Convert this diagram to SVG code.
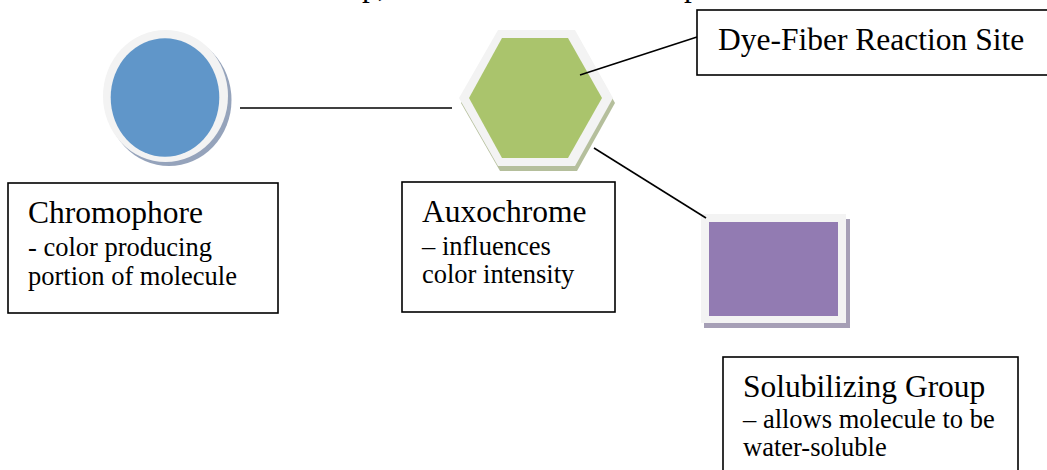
<svg xmlns="http://www.w3.org/2000/svg" width="1047" height="470" viewBox="0 0 1047 470">
<style>
.t{font-family:"Liberation Serif","Times New Roman",serif;fill:#000}
.big{font-size:31.5px}
.small{font-size:26.5px}
.box{fill:#fff;stroke:#000;stroke-width:1.6}
.conn{stroke:#000;stroke-width:1.6;fill:none}
.ring{fill:#f3f3f3}
</style>
<rect width="1047" height="470" fill="#fff"/>
<text class="t big" x="362" y="-4">p,</text>
<text class="t big" x="684" y="-4">p</text>
<g id="chromophore-shape">
<ellipse cx="169" cy="100" rx="62.5" ry="66" fill="#95a3bb"/>
<ellipse class="ring" cx="165.5" cy="96" rx="62.5" ry="66"/>
<ellipse cx="165" cy="97.5" rx="54.3" ry="59.3" fill="#6096c9"/>
</g>
<g id="auxochrome-shape">
<polygon points="461,103 500,35 577,35 615,103 577,171 500,171" fill="#b5bf9c"/>
<polygon class="ring" points="459,98 498,30 575,30 613,98 575,166 498,166"/>
<polygon points="469,98 502,38 568,38 602,98 568,158 502,158" fill="#aac46c"/>
</g>
<g id="solubilizing-shape">
<rect x="704" y="219" width="146" height="109" fill="#a69fb6"/>
<rect class="ring" x="701" y="214" width="145" height="109"/>
<rect x="709" y="222" width="129" height="94" fill="#927bb2"/>
</g>
<g id="connectors">
<line class="conn" x1="240" y1="108" x2="452" y2="108"/>
<line class="conn" x1="580" y1="75" x2="697" y2="37"/>
<line class="conn" x1="594" y1="148" x2="706" y2="218"/>
</g>
<g id="chromophore-label">
<rect class="box" x="8" y="183" width="270" height="130"/>
<text class="t big" x="28" y="223">Chromophore</text>
<text class="t small" x="28" y="256"> - color producing</text>
<text class="t small" x="28" y="285">portion of molecule</text>
</g>
<g id="auxochrome-label">
<rect class="box" x="402" y="182" width="213" height="130"/>
<text class="t big" x="422" y="222">Auxochrome</text>
<text class="t small" x="422" y="255">– influences</text>
<text class="t small" x="422" y="283">color intensity</text>
</g>
<g id="dye-fiber-label">
<rect class="box" x="697" y="10" width="360" height="65"/>
<text class="t big" x="718" y="50">Dye-Fiber Reaction Site</text>
</g>
<g id="solubilizing-label">
<rect class="box" x="723" y="357" width="295" height="130"/>
<text class="t big" x="743" y="397">Solubilizing Group</text>
<text class="t small" x="743" y="428">– allows molecule to be</text>
<text class="t small" x="743" y="456">water-soluble</text>
</g>
</svg>
